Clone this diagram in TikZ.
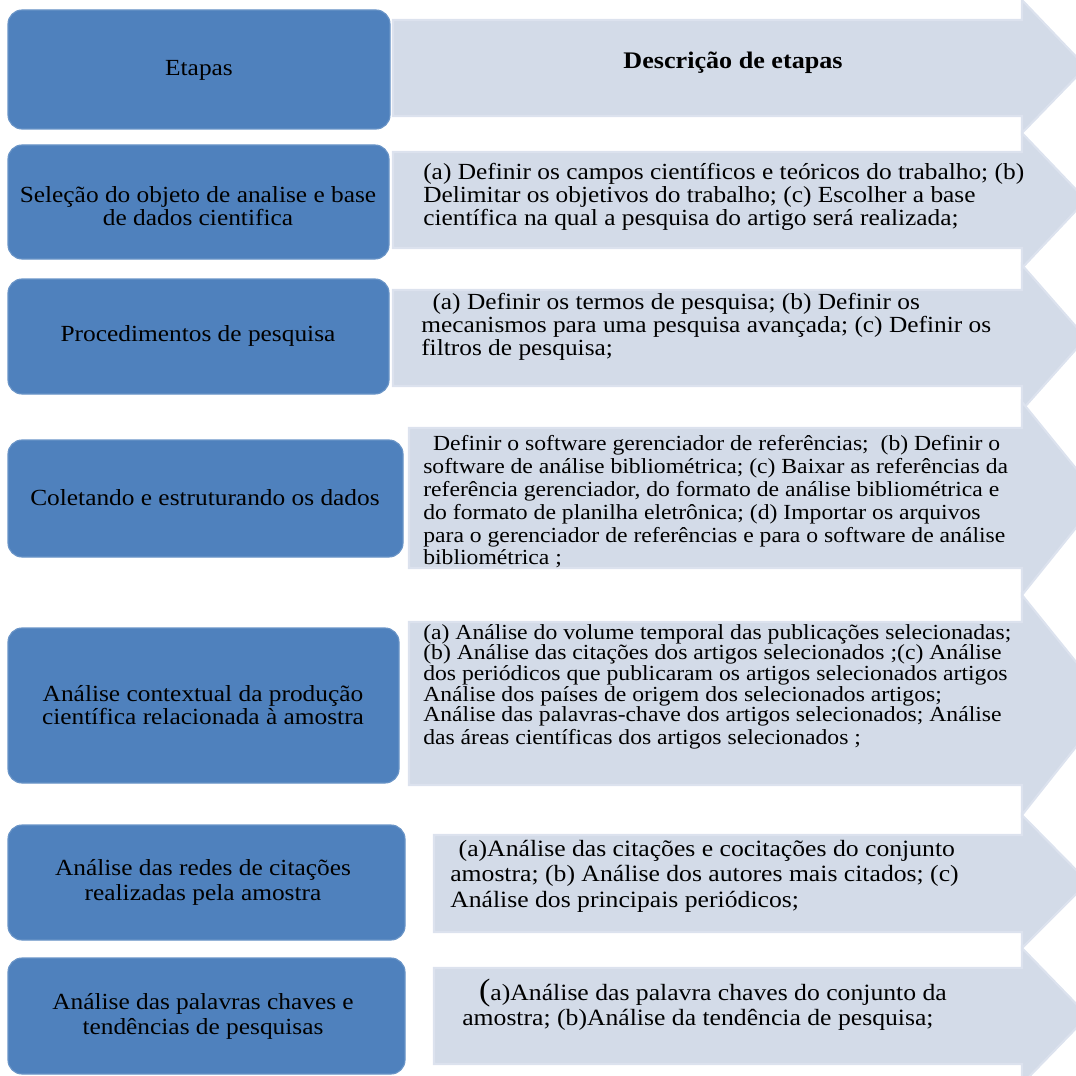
\documentclass[tikz,border=0pt]{standalone}
\usepackage{fontspec}
\setmainfont{Liberation Serif}[FakeStretch=1.1]
\usepackage{xcolor}
\definecolor{caixa}{HTML}{4F81BD}
\definecolor{setafundo}{HTML}{D3DBE8}
\definecolor{setaborda}{HTML}{DCE2EE}
\usepackage{tikz}

\begin{document}
\begin{tikzpicture}[x=0.025cm,y=-0.025cm,
etapa/.style={fill=caixa,draw=caixa!85!white,line width=0.8pt,rounded corners=10pt},
seta/.style={fill=setafundo,draw=setaborda,line width=1.5pt},
rotulo/.style={align=center,inner sep=0pt,font=\fontsize{16.4}{16.6}\selectfont},
descr/.style={align=left,anchor=west,inner sep=0pt,font=\fontsize{16.4}{16.4}\selectfont}]
\useasboundingbox(0,0)rectangle(1076,1076);
\clip(0,0)rectangle(1076,1076);
\draw[seta](393,20)--(1022,20)--(1022,0)--(1086,67)--(1022,133)--(1022,116)--(393,116)--cycle;
\draw[seta](393,152)--(1022,152)--(1022,133)--(1086,200)--(1022,268)--(1022,248)--(393,248)--cycle;
\draw[seta](393,290)--(1022,290)--(1022,265)--(1086,338)--(1022,410)--(1022,386)--(393,386)--cycle;
\draw[seta](409,428)--(1022,428)--(1022,402)--(1100,498)--(1022,595)--(1022,568)--(409,568)--cycle;
\draw[seta](409,622)--(1022,622)--(1022,595)--(1110,704)--(1022,815)--(1022,785)--(409,785)--cycle;
\draw[seta](434,835)--(1022,835)--(1022,815)--(1088,882)--(1022,948)--(1022,932)--(434,932)--cycle;
\draw[seta](434,968)--(1022,968)--(1022,948)--(1088,1016)--(1022,1084)--(1022,1064)--(434,1064)--cycle;
\draw[etapa](8,10)rectangle(390,129);
\draw[etapa](8,145)rectangle(389,259);
\draw[etapa](8,279)rectangle(389,394);
\draw[etapa](8,440)rectangle(403,557);
\draw[etapa](8,628)rectangle(399,783);
\draw[etapa](8,825)rectangle(405,940);
\draw[etapa](8,958)rectangle(405,1074);
\node[rotulo](e1)at(199,70){Etapas};
\node[rotulo,font=\fontsize{16.9}{17}\selectfont\bfseries](d1)at(733,63){Descrição de etapas};
\node[rotulo](e2)at(198,206){Seleção do objeto de analise e base\\de dados cientifica};
\node[rotulo](e3)at(198,336){Procedimentos de pesquisa};
\node[rotulo](e4)at(205,498){Coletando e estruturando os dados};
\node[rotulo](e5)at(203,705){Análise contextual da produção\\científica relacionada à amostra};
\node[rotulo,font=\fontsize{16.4}{17.8}\selectfont](e6)at(203,882){Análise das redes de citações\\realizadas pela amostra};
\node[rotulo,font=\fontsize{16.4}{17.8}\selectfont](e7)at(203,1016){Análise das palavras chaves e\\tendências de pesquisas};
\node[descr](d2)at(423,197){(a) Definir os campos científicos e teóricos do trabalho; (b)\\Delimitar os objetivos do trabalho; (c) Escolher a base\\científica na qual a pesquisa do artigo será realizada;};
\node[descr](d3)at(421,327){\hspace*{8pt}(a) Definir os termos de pesquisa; (b) Definir os\\mecanismos para uma pesquisa avançada; (c) Definir os\\filtros de pesquisa;};
\node[descr,font=\fontsize{15.3}{16.2}\selectfont](d4)at(423,502){\hspace*{7pt}Definir o software gerenciador de referências;\ \ (b) Definir o\\software de análise bibliométrica; (c) Baixar as referências da\\referência gerenciador, do formato de análise bibliométrica e\\do formato de planilha eletrônica; (d) Importar os arquivos\\para o gerenciador de referências e para o software de análise\\bibliométrica ;};
\node[descr,font=\fontsize{15.3}{14.6}\selectfont](d5)at(423,687){(a) Análise do volume temporal das publicações selecionadas;\\(b) Análise das citações dos artigos selecionados ;(c) Análise\\dos periódicos que publicaram os artigos selecionados artigos\\Análise dos países de origem dos selecionados artigos;\\Análise das palavras-chave dos artigos selecionados; Análise\\[2pt]das áreas científicas dos artigos selecionados ;};
\node[descr,font=\fontsize{16.6}{18.1}\selectfont](d6)at(450,876){\hspace*{6pt}(a)Análise das citações e cocitações do conjunto\\amostra; (b) Análise dos autores mais citados; (c)\\Análise dos principais periódicos;};
\node[descr,font=\fontsize{16.6}{18.1}\selectfont](d7)at(462,1005){\hspace*{12pt}{\fontsize{22}{18}\selectfont(}a)Análise das palavra chaves do conjunto da\\amostra; (b)Análise da tendência de pesquisa;};
\end{tikzpicture}
\end{document}
